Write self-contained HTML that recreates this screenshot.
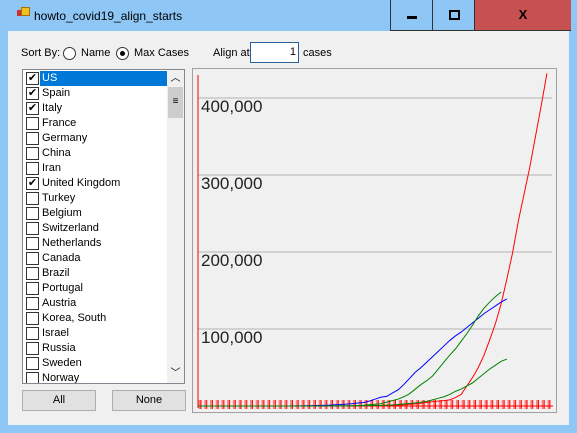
<!DOCTYPE html>
<html><head><meta charset="utf-8"><style>
body{margin:0;width:577px;height:433px;background:#8ec6f6;font-family:"Liberation Sans",sans-serif;font-size:11px;position:relative;overflow:hidden}
.abs{position:absolute}
.item{position:absolute;left:0;height:15px;line-height:15px;width:143px}
.cb{position:absolute;left:2px;top:1px;width:11px;height:11px;border:1px solid #333;background:#fff;font-size:11px;line-height:11px;text-align:center}
.lbl{position:absolute;left:16px;top:0;padding:0 2px}
.btn{position:absolute;background:#e1e1e1;border:1px solid #adadad;text-align:center;line-height:19px}
</style></head><body>
<div class="abs" style="left:0;top:0;width:577px;height:31px;background:#8ec6f6">
 <div class="abs" style="left:17px;top:10px;width:6px;height:6px;background:#d03030"></div>
 <div class="abs" style="left:21px;top:7px;width:7px;height:7px;background:#f0c020;border:1px solid #a07000"></div>
 <div class="abs" style="left:34px;top:9px;font-size:12px">howto_covid19_align_starts</div>
 <div class="abs" style="left:390px;top:0;width:42px;height:30px;border-left:1px solid #333;border-bottom:1px solid #333"><div class="abs" style="left:16px;top:16px;width:10px;height:3px;background:#000"></div></div>
 <div class="abs" style="left:432px;top:0;width:42px;height:30px;border-left:1px solid #333;border-bottom:1px solid #333"><div class="abs" style="left:16px;top:10px;width:7px;height:6px;border:2px solid #000"></div></div>
 <div class="abs" style="left:474px;top:0;width:96px;height:30px;background:#c75050;border-left:1px solid #333;border-bottom:1px solid #333;text-align:center;line-height:30px;font-weight:bold;font-size:13px">X</div>
</div>
<div class="abs" style="left:8px;top:31px;width:561px;height:394px;background:#f0f0f0"></div>
<div class="abs" style="left:21px;top:47px">Sort By:</div>
<div class="abs" style="left:63px;top:47px;width:11px;height:11px;border:1px solid #333;border-radius:50%;background:#fff"></div>
<div class="abs" style="left:81px;top:47px">Name</div>
<div class="abs" style="left:116px;top:47px;width:11px;height:11px;border:1px solid #333;border-radius:50%;background:#fff"><div class="abs" style="left:3px;top:3px;width:5px;height:5px;border-radius:50%;background:#000"></div></div>
<div class="abs" style="left:134px;top:47px">Max Cases</div>
<div class="abs" style="left:213px;top:47px">Align at</div>
<div class="abs" style="left:250px;top:42px;width:45px;height:19px;border:1px solid #2b5f9a;background:#fff;text-align:right;line-height:19px;padding-right:2px">1</div>
<div class="abs" style="left:303px;top:47px">cases</div>

<div class="abs" style="left:22px;top:69px;width:161px;height:313px;background:#fff;border:1px solid #828790;overflow:hidden">
 <div id="items" class="abs" style="left:1px;top:1px;width:143px"></div>
 <div class="abs" style="left:144px;top:0;width:17px;height:313px;background:#f0f0f0">
  <div class="abs" style="left:0;top:0;width:17px;height:17px;text-align:center;font-size:10px;line-height:17px">︿</div>
  <div class="abs" style="left:1px;top:17px;width:15px;height:31px;background:#cdcdcd;text-align:center;line-height:30px;font-size:10px">≡</div>
  <div class="abs" style="left:0;top:295px;width:17px;height:17px;text-align:center;font-size:10px;line-height:17px">﹀</div>
 </div>
</div>
<div class="btn" style="left:22px;top:390px;width:72px;height:19px">All</div>
<div class="btn" style="left:112px;top:390px;width:72px;height:19px">None</div>

<svg class="abs" style="left:192px;top:68px" width="366" height="346" id="chart"></svg>
<script>
const countries=["US","Spain","Italy","France","Germany","China","Iran","United Kingdom","Turkey","Belgium","Switzerland","Netherlands","Canada","Brazil","Portugal","Austria","Korea, South","Israel","Russia","Sweden","Norway"];
const checked=[true,true,true,false,false,false,false,true,false,false,false,false,false,false,false,false,false,false,false,false,false];
const tickLabels=["100,000","200,000","300,000","400,000"];
const tickValues=[100000,200000,300000,400000];
const usCases=[1,1,2,2,5,5,5,5,5,6,6,8,8,11,12,12,12,13,14,15,15,16,17,20,30,50,70,100,130,200,300,450,600,750,1000,1300,1700,2200,2700,3500,4600,5600,6400,7000,8000,11000,15000,26000,37000,50000,66000,86000,107000,133000,165000,199000,240000,275000,310000,350000,390000,432000];
const italyCases=[3,3,3,3,3,3,3,3,3,3,3,3,3,3,3,20,60,150,230,320,450,650,890,1130,1700,2000,2500,3100,3900,4600,6500,9000,11500,12500,17000,21000,28000,36000,44000,50000,57000,64000,71000,78000,85000,91000,96000,102000,108000,114000,120000,125000,130000,135000,139000];
const spainCases=[1,2,2,2,2,2,2,2,2,2,2,2,2,2,2,2,2,2,6,13,15,32,45,84,120,165,222,400,600,1000,1700,2300,3000,5000,7000,9000,12000,16000,22000,28000,33000,39000,48000,57000,66000,74000,84000,94000,105000,117000,127000,135000,142000,148000];
const ukCases=[3,3,3,3,4,8,8,9,9,9,9,9,9,9,13,13,13,16,20,23,36,40,51,85,115,163,206,273,321,382,456,590,800,1100,1400,1950,2600,3300,4000,5000,6000,8000,10000,12000,15000,19000,22000,26000,30000,36000,42000,48000,53000,58000,61000];
const series=[[usCases,"#ff0000","us"],[italyCases,"#0000ff","italy"],[spainCases,"#008000","spain"],[ukCases,"#008000","united-kingdom"]];

const items=document.getElementById('items');
countries.forEach((c,i)=>{
 const d=document.createElement('div');d.className='item';d.style.top=(i*15)+'px';
 
 
 const cb=document.createElement('div');cb.className='cb';if(checked[i])cb.textContent='✔';
 
 
 const l=document.createElement('div');l.className='lbl';l.textContent=c;
 if(i===0){l.style.background='#0078d7';l.style.color='#fff';l.style.right='0';}
 d.appendChild(cb);d.appendChild(l);items.appendChild(d);
});

const svg=document.getElementById('chart');const NS='http://www.w3.org/2000/svg';
const X0=6,Y0=338,DX=5.72,YS=77/100000;
const xs=i=>X0+i*DX, ys=v=>Y0-v*YS;
function el(t,a){const e=document.createElementNS(NS,t);for(const k in a)e.setAttribute(k,a[k]);svg.appendChild(e);return e;}
let f=el('rect',{x:0.5,y:0.5,width:364,height:344,fill:'#f0f0f0',stroke:'#a0a0a0'});


tickValues.forEach((v,i)=>{
 const g=el('line',{x1:X0,x2:360,y1:ys(v),y2:ys(v),stroke:'#c8c8c8','stroke-width':1.5});
 
 
 const t=el('text',{x:X0+3,y:ys(v)+14,'font-size':'17','font-family':'Liberation Sans, sans-serif',fill:'#222'});
 t.textContent=tickLabels[i];
 
 
});
let ya=el('line',{x1:X0,x2:X0,y1:7,y2:340,stroke:'#ff0000'});


for(let i=0;i<usCases.length;i++){
 const tk=el('line',{x1:xs(i)+1.5,x2:xs(i)+1.5,y1:Y0-6,y2:Y0+3,stroke:'#ff8080','stroke-width':2});
 
 
 const tk2=el('line',{x1:xs(i)+3,x2:xs(i)+3,y1:Y0-6,y2:Y0+3,stroke:'#ff0000'});
 
 
}
let xa=el('line',{x1:X0,x2:361,y1:Y0,y2:Y0,stroke:'#ff0000'});


series.forEach(([d,c,n])=>{
 const p=el('polyline',{points:d.map((v,i)=>xs(i)+','+ys(v)).join(' '),fill:'none',stroke:c,'stroke-width':1});
 
 
});
</script>
</body></html>
